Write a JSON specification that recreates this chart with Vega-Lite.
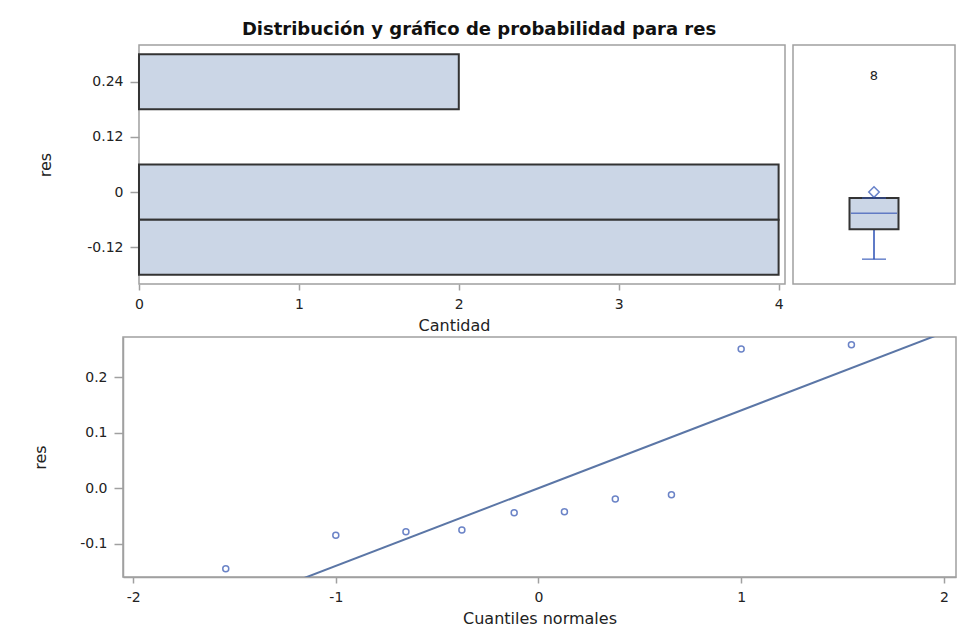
{
  "$schema": "https://vega.github.io/schema/vega-lite/v6.json",
  "padding": {"left": 31, "top": 21, "right": 2, "bottom": 2},
  "title": {"text": "Distribución y gráfico de probabilidad para res", "fontSize": 18, "fontWeight": "bold", "font": "DejaVu Sans", "anchor": "middle", "offset": 5, "color": "#111111", "dx": -15},
  "datasets": {
    "hist": [
      {"lo": 0.18, "hi": 0.30, "n": 2},
      {"lo": -0.06, "hi": 0.06, "n": 4},
      {"lo": -0.18, "hi": -0.06, "n": 4}
    ],
    "box": [
      {"g": "res", "lo": -0.146, "q1": -0.0807, "median": -0.0458, "q3": -0.013, "mean": 0.0, "outy": 0.253, "lab": "8"}
    ],
    "qq": [
      {"q": -1.543, "res": -0.145},
      {"q": -1.0, "res": -0.085},
      {"q": -0.654, "res": -0.0786},
      {"q": -0.378, "res": -0.0756},
      {"q": -0.12, "res": -0.0444},
      {"q": 0.128, "res": -0.0426},
      {"q": 0.379, "res": -0.0198},
      {"q": 0.656, "res": -0.012},
      {"q": 1.0, "res": 0.2505},
      {"q": 1.544, "res": 0.258}
    ],
    "fit": [
      {"q": -2.05, "fit": -0.287},
      {"q": 2.06, "fit": 0.2884}
    ]
  },
  "spacing": 3,
  "vconcat": [
    {
      "spacing": 6,
      "hconcat": [
        {
          "width": 662, "height": 239,
          "view": {"stroke": null},
          "layer": [
            {
              "data": {"values": [{}]},
              "mark": {"type": "rect", "fill": null, "stroke": "#a0a0a0", "strokeWidth": 1.5},
              "encoding": {
                "x": {"datum": 0, "type": "quantitative", "scale": {"domain": [-0.1, 4.04], "nice": false, "zero": false}},
                "x2": {"datum": 4.04},
                "y": {"datum": -0.2, "type": "quantitative", "scale": {"domain": [-0.2, 0.32], "nice": false, "zero": false}},
                "y2": {"datum": 0.32}
              }
            },
            {
              "data": {"name": "hist"},
              "mark": {"type": "rect", "fill": "#cbd6e6", "stroke": "#333333", "strokeWidth": 2},
              "encoding": {
                "y": {"field": "lo", "type": "quantitative", "scale": {"domain": [-0.2, 0.32], "nice": false, "zero": false},
                      "axis": {"values": [-0.12, 0, 0.12, 0.24], "title": "res", "minExtent": 52, "maxExtent": 52, "titlePadding": 34, "offset": -16, "domain": false,
                               "labelExpr": "datum.value < 0 ? '-' + format(-datum.value, '.2~f') : format(datum.value, '.2~f')"}},
                "y2": {"field": "hi"},
                "x": {"field": "n", "type": "quantitative", "scale": {"domain": [-0.1, 4.04], "nice": false, "zero": false},
                      "axis": {"values": [0, 1, 2, 3, 4], "title": "Cantidad", "format": "d", "domain": false}},
                "x2": {"datum": 0}
              }
            }
          ]
        },
        {
          "width": 162, "height": 239,
          "data": {"name": "box"},
          "encoding": {"x": {"field": "g", "type": "nominal", "axis": null}},
          "layer": [
            {"mark": {"type": "rule", "color": "#2a4fb5", "strokeWidth": 1.5},
             "encoding": {"y": {"field": "lo", "type": "quantitative", "scale": {"domain": [-0.2, 0.32], "nice": false, "zero": false}, "axis": null}, "y2": {"field": "q1"}}},
            {"mark": {"type": "tick", "color": "#2a4fb5", "size": 24, "thickness": 1.5},
             "encoding": {"y": {"field": "lo", "type": "quantitative", "scale": {"domain": [-0.2, 0.32], "nice": false, "zero": false}, "axis": null}}},
            {"mark": {"type": "bar", "size": 49, "fill": "#cbd6e6", "stroke": "#333333", "strokeWidth": 2},
             "encoding": {"y": {"field": "q1", "type": "quantitative", "scale": {"domain": [-0.2, 0.32], "nice": false, "zero": false}, "axis": null}, "y2": {"field": "q3"}}},
            {"mark": {"type": "tick", "color": "#3354b5", "size": 46, "thickness": 1.5},
             "encoding": {"y": {"field": "median", "type": "quantitative", "scale": {"domain": [-0.2, 0.32], "nice": false, "zero": false}, "axis": null}}},
            {"mark": {"type": "tick", "color": "#3354b5", "size": 24, "thickness": 1.5},
             "encoding": {"y": {"field": "q3", "type": "quantitative", "scale": {"domain": [-0.2, 0.32], "nice": false, "zero": false}, "axis": null}}},
            {"mark": {"type": "point", "shape": "diamond", "size": 110, "filled": false, "color": "#2a4fb5", "strokeWidth": 1.5},
             "encoding": {"y": {"field": "mean", "type": "quantitative", "scale": {"domain": [-0.2, 0.32], "nice": false, "zero": false}, "axis": null}}},
            {"mark": {"type": "text", "fontSize": 13, "color": "#222222", "font": "DejaVu Sans"},
             "encoding": {"y": {"field": "outy", "type": "quantitative", "scale": {"domain": [-0.2, 0.32], "nice": false, "zero": false}, "axis": null}, "text": {"field": "lab"}}}
          ]
        }
      ]
    },
    {
      "width": 833, "height": 240,
      "layer": [
        {
          "data": {"name": "fit"},
          "mark": {"type": "line", "color": "#5b76a6", "strokeWidth": 2, "clip": true},
          "encoding": {
            "x": {"field": "q", "type": "quantitative", "scale": {"domain": [-2.05, 2.06], "nice": false, "zero": false},
                  "axis": {"values": [-2, -1, 0, 1, 2], "title": "Cuantiles normales",
                           "labelExpr": "datum.value < 0 ? '-' + format(-datum.value, 'd') : format(datum.value, 'd')"}},
            "y": {"field": "fit", "type": "quantitative", "scale": {"domain": [-0.16, 0.272], "nice": false, "zero": false},
                  "axis": {"values": [-0.1, 0, 0.1, 0.2], "title": "res", "minExtent": 42, "maxExtent": 42, "titlePadding": 33,
                           "labelExpr": "datum.value < 0 ? '-' + format(-datum.value, '.1f') : format(datum.value, '.1f')"}}
          }
        },
        {
          "data": {"name": "qq"},
          "mark": {"type": "point", "shape": "circle", "size": 36, "color": "#2d50b0", "strokeWidth": 1.5, "filled": false},
          "encoding": {
            "x": {"field": "q", "type": "quantitative"},
            "y": {"field": "res", "type": "quantitative"}
          }
        }
      ]
    }
  ],
  "config": {
    "font": "DejaVu Sans",
    "view": {"stroke": "#a0a0a0", "strokeWidth": 1.5},
    "axis": {"grid": false, "domainColor": "#a0a0a0", "domainWidth": 1.5, "tickColor": "#a0a0a0", "tickWidth": 1.5,
             "labelFontSize": 14, "labelColor": "#222222", "titleFontSize": 16, "titleFontWeight": "normal", "titleColor": "#222222",
             "labelFont": "DejaVu Sans", "titleFont": "DejaVu Sans"},
    "axisY": {"tickSize": 9, "labelPadding": 7},
    "axisX": {"tickSize": 6, "labelPadding": 7, "titlePadding": 6}
  }
}
